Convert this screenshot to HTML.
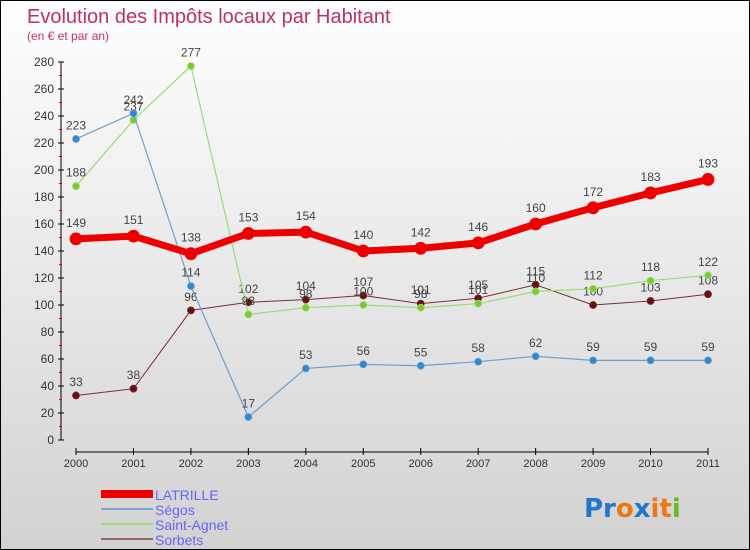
<!DOCTYPE html>
<html><head><meta charset="utf-8"><style>
body{margin:0;padding:0}
#c{width:748px;height:548px;border:1px solid #000;background:linear-gradient(#ffffff,#d2d2d2);position:relative;overflow:hidden;font-family:"Liberation Sans",sans-serif}
</style></head><body>
<div id="c">
<svg width="748" height="548" id="svg" style="position:absolute;left:0;top:0">
<text x="26" y="22" font-size="20" fill="#c0305f">Evolution des Impôts locaux par Habitant</text>
<text x="26" y="39" font-size="12" fill="#c0305f">(en € et par an)</text>
<g id="axes"></g><g id="series"></g>
<g id="legend">
<rect x="100" y="489" width="52" height="8" fill="#e00"/>
<text x="154" y="499" font-size="14" fill="#6666ff">LATRILLE</text>
<rect x="100" y="507" width="52" height="2" fill="#7aaad0"/>
<text x="154" y="514" font-size="14" fill="#6666ff">Ségos</text>
<rect x="100" y="522" width="52" height="2" fill="#99dd77"/>
<text x="154" y="529" font-size="14" fill="#6666ff">Saint-Agnet</text>
<rect x="100" y="537" width="52" height="2" fill="#996666"/>
<text x="154" y="544" font-size="14" fill="#6666ff">Sorbets</text>
</g>
<text x="583" y="516" font-size="26" font-weight="bold" font-family="'DejaVu Sans',sans-serif"><tspan fill="#2277cc">Pr</tspan><tspan fill="#ee7711">o</tspan><tspan fill="#2277cc">x</tspan><tspan fill="#ee7711">it</tspan><tspan fill="#66bb22">i</tspan></text>
</svg>
</div>
<script>
const years=["2000","2001","2002","2003","2004","2005","2006","2007","2008","2009","2010","2011"];
const yTicks=[0,20,40,60,80,100,120,140,160,180,200,220,240,260,280];
const latrille=[149,151,138,153,154,140,142,146,160,172,183,193];
const segos=[223,242,114,17,53,56,55,58,62,59,59,59];
const saintAgnet=[188,237,277,93,98,100,98,101,110,112,118,122];
const sorbets=[33,38,96,102,104,107,101,105,115,100,103,108];
const NS="http://www.w3.org/2000/svg";
const X=i=>75+i*(632/11);
const Y=v=>439-v*(378/280);
function mk(t,a,p){const e=document.createElementNS(NS,t);for(const k in a)e.setAttribute(k,a[k]);p.appendChild(e);return e;}
const ax=document.getElementById('axes');
let l=mk('line',{x1:60,y1:Y(280),x2:60,y2:Y(0),stroke:'#000'},ax);

yTicks.forEach(v=>{
 mk('line',{x1:57,y1:Y(v),x2:63,y2:Y(v),stroke:'#000'},ax);
 if(v<280)mk('line',{x1:58,y1:Y(v+10),x2:61,y2:Y(v+10),stroke:'#e00'},ax);
 const t=mk('text',{x:53,y:Y(v)+4,'font-size':12,fill:'#333','text-anchor':'end'},ax);t.textContent=v;
 
});
l=mk('line',{x1:75,y1:451,x2:707,y2:451,stroke:'#000'},ax);

years.forEach((y,i)=>{
 mk('line',{x1:X(i),y1:447,x2:X(i),y2:454,stroke:'#000'},ax);
 const t=mk('text',{x:X(i),y:466,'font-size':11,fill:'#333','text-anchor':'middle'},ax);t.textContent=y;
 
});
const sg=document.getElementById('series');
function draw(data,color,dot,w,r,name){
 const g=mk('g',{},sg);
 
 const p=mk('polyline',{points:data.map((v,i)=>X(i)+','+Y(v)).join(' '),fill:'none',stroke:color,'stroke-width':w},g);
 
 data.forEach((v,i)=>{
  const c=mk('circle',{cx:X(i),cy:Y(v),r:r,fill:dot,stroke:color,'stroke-width':0.8},g);
  
  const t=mk('text',{x:X(i),y:Y(v)-(r+6),'font-size':12,fill:'#444','text-anchor':'middle'},g);t.textContent=v;
  
 });
}
draw(sorbets,'#7a3030','#661111',1,3.5,'sorbets');
draw(saintAgnet,'#99dd77','#77cc33',1.2,3.5,'saint-agnet');
draw(segos,'#6aa0d0','#3388cc',1.2,3.5,'segos');
draw(latrille,'#ee0000','#ee0000',7,6,'latrille');
</script>
</body></html>
